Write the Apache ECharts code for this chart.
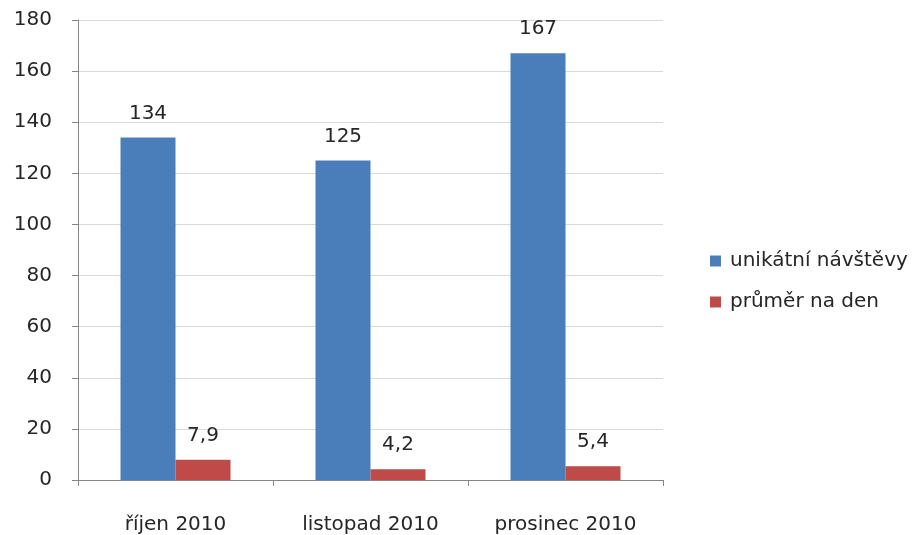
<!DOCTYPE html>
<html>
<head>
<meta charset="utf-8">
<script src="https://cdn.jsdelivr.net/npm/echarts@6/dist/echarts.min.js"></script>
<style>
  html, body { margin: 0; padding: 0; background: #fff; }
  #chart { width: 916px; height: 535px; }
</style>
</head>
<body>
<div id="chart"></div>
<script>
const categories = ['říjen 2010', 'listopad 2010', 'prosinec 2010']
const uniqueVisits = [134, 125, 167]
const dailyAverage = [7.9, 4.2, 5.4]
const seriesNames = ['unikátní návštěvy', 'průměr na den']

const font = '"DejaVu Sans", sans-serif'
const textColor = '#262626'
const fontSize = 20

// decimal comma like the original
const fmt = p => String(p.value).replace('.', ',')

const chart = echarts.init(document.getElementById('chart'))
chart.setOption({
  animation: false,
  textStyle: { fontFamily: font },
  grid: { left: 78, right: 253, top: 20, bottom: 55 },
  legend: {
    orient: 'vertical',
    left: 705,
    top: 246,
    itemWidth: 11,
    itemHeight: 11,
    itemGap: 21,
    icon: 'rect',
    textStyle: { fontSize: fontSize, color: textColor, fontFamily: font, padding: [0, 0, 0, 4] },
    data: seriesNames
  },
  xAxis: {
    type: 'category',
    data: categories,
    axisLine: { lineStyle: { color: '#868686' } },
    axisTick: { show: true, length: 6, lineStyle: { color: '#868686' } },
    axisLabel: { fontSize: fontSize, color: textColor, margin: 35, fontFamily: font }
  },
  yAxis: {
    type: 'value',
    min: 0,
    max: 180,
    interval: 20,
    axisLine: { show: true, lineStyle: { color: '#868686' } },
    axisTick: { show: true, length: 6, lineStyle: { color: '#868686' } },
    axisLabel: { fontSize: fontSize, color: textColor, margin: 26, fontFamily: font },
    splitLine: { lineStyle: { color: '#d9d9d9' } }
  },
  series: [{
    name: seriesNames[0],
    type: 'bar',
    data: uniqueVisits,
    barWidth: 55,
    barGap: '0%',
    itemStyle: { color: '#4a7ebb' },
    label: { show: true, position: 'top', distance: 14, fontSize: fontSize, color: textColor, formatter: fmt }
  }, {
    name: seriesNames[1],
    type: 'bar',
    data: dailyAverage,
    barWidth: 55,
    barGap: '0%',
    itemStyle: { color: '#be4b48' },
    label: { show: true, position: 'top', distance: 14, fontSize: fontSize, color: textColor, formatter: fmt }
  }]
})
</script>
</body>
</html>
